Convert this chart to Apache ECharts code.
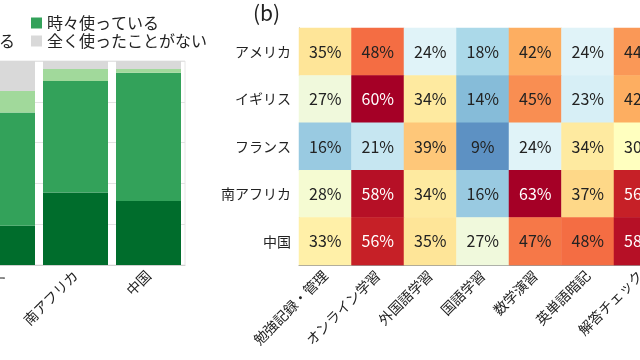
<!DOCTYPE html>
<html><head><meta charset="utf-8">
<script src="https://cdn.jsdelivr.net/npm/echarts@6/dist/echarts.min.js"></script>
<style>html,body{margin:0;padding:0;background:#fff;overflow:hidden;width:640px;height:360px}
#wrap{position:relative;width:640px;height:360px;overflow:hidden}
#c{position:absolute;left:-200px;top:0;width:960px;height:360px}</style>
</head><body><div id="wrap"><div id="c"></div></div>
<script>
// ---- (a) stacked bar data (percent) ----
const countries = ['アメリカ', 'イギリス', 'フランス', '南アフリカ', '中国'];
const seriesNames = ['よく使っている', '時々使っている', '使ったことがある', '全く使ったことがない'];
const oftenUse   = [28, 22, 19.3, 35.5, 31.4];
const sometimes  = [50, 52, 55.4, 54.7, 62.9];
const usedBefore = [8, 9, 10.6, 5.9, 1.8];
const neverUsed  = [14, 17, 14.7, 3.9, 3.9];
const yTicks = [0, 20, 40, 60, 80, 100];

// ---- (b) heatmap data (percent) ----
const tasks = ['勉強記録・管理', 'オンライン学習', '外国語学習', '国語学習', '数学演習', '英単語暗記', '解答チェック'];
const rowUSA   = [35, 48, 24, 18, 42, 24, 44];
const rowUK    = [27, 60, 34, 14, 45, 23, 42];
const rowFR    = [16, 21, 39, 9, 24, 34, 30];
const rowZA    = [28, 58, 34, 16, 63, 37, 56];
const rowCN    = [33, 56, 35, 27, 47, 48, 58];
const heatRows = [rowUSA, rowUK, rowFR, rowZA, rowCN];

const FONT = 'Noto Sans CJK JP';
const OX = 200; // canvas is shifted 200px to the left (figure is cropped)
const colors = ['#006d2c', '#33a25a', '#a1d99b', '#d9d9d9'];
const cmap = ['#313695','#4575b4','#74add1','#abd9e9','#e0f3f8','#ffffbf','#fee090','#fdae61','#f46d43','#d73027','#a50026'];

const heatData = [];
heatRows.forEach((row, r) => row.forEach((v, c) => {
  heatData.push({ value: [c, r, v], label: { color: v >= 55 ? '#ffffff' : '#222222' } });
}));

const stackVals = [oftenUse, sometimes, usedBefore, neverUsed];
const barSeries = seriesNames.map((n, i) => ({
  name: n, type: 'bar', stack: 'a', xAxisIndex: 0, yAxisIndex: 0,
  barWidth: 65, data: stackVals[i], itemStyle: { color: colors[i] }, silent: true
}));

const chart = echarts.init(document.getElementById('c'), null, { renderer: 'canvas' });
chart.setOption({
  animation: false,
  textStyle: { fontFamily: FONT },
  graphic: [{ type: 'text', left: OX + 253, top: 3, style: { text: '(b)', fontSize: 21, fill: '#222', fontFamily: FONT } }],
  legend: [
    { orient: 'vertical', left: OX - 129, top: 15, padding: 0, data: [seriesNames[0], seriesNames[2]],
      icon: 'rect', itemWidth: 11, itemHeight: 11, itemGap: 2, selectedMode: false,
      textStyle: { fontSize: 16, lineHeight: 16, color: '#222', fontFamily: FONT } },
    { orient: 'vertical', left: OX + 31, top: 15, padding: 0, data: [seriesNames[1], seriesNames[3]],
      icon: 'rect', itemWidth: 11, itemHeight: 11, itemGap: 2, selectedMode: false,
      textStyle: { fontSize: 16, lineHeight: 16, color: '#222', fontFamily: FONT } }
  ],
  visualMap: { show: false, seriesIndex: 4, min: 0, max: 60, inRange: { color: cmap } },
  grid: [
    { left: OX - 180, top: 61, width: 365, height: 204, show: true, borderColor: '#e6e6e6', borderWidth: 1, containLabel: false },
    { left: OX + 299, top: 28, width: 367.5, height: 237, containLabel: false }
  ],
  xAxis: [
    { type: 'category', gridIndex: 0, data: countries,
      axisLine: { lineStyle: { color: '#d0d0d0' } },
      axisTick: { alignWithLabel: true, length: 5, lineStyle: { color: '#aaa' } },
      axisLabel: { rotate: 45, fontSize: 14, color: '#222', margin: 8, fontFamily: FONT } },
    { type: 'category', gridIndex: 1, data: tasks,
      axisLine: { lineStyle: { color: '#999' } },
      axisTick: { alignWithLabel: true, length: 5, lineStyle: { color: '#666' } },
      axisLabel: { rotate: 45, fontSize: 14, color: '#222', margin: 8, interval: 0, fontFamily: FONT },
      splitArea: { show: false } }
  ],
  yAxis: [
    { type: 'value', gridIndex: 0, min: yTicks[0], max: yTicks[yTicks.length - 1], interval: 20,
      splitLine: { lineStyle: { color: '#e3e3e3' } },
      axisLine: { show: false }, axisTick: { show: false }, axisLabel: { show: false } },
    { type: 'category', gridIndex: 1, data: countries, inverse: true,
      axisLine: { lineStyle: { color: '#999' } },
      axisTick: { alignWithLabel: true, length: 5, lineStyle: { color: '#666' } },
      axisLabel: { fontSize: 14, color: '#222', margin: 8, fontFamily: FONT } }
  ],
  series: barSeries.concat([{
    type: 'heatmap', xAxisIndex: 1, yAxisIndex: 1, data: heatData, silent: true,
    label: { show: true, fontSize: 16, fontFamily: FONT, formatter: p => p.value[2] + '%' }
  }])
});
</script></body></html>
